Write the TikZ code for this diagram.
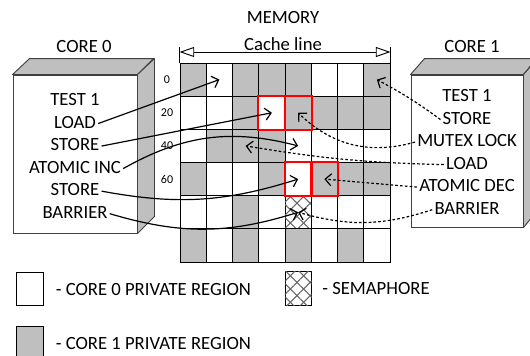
\documentclass[tikz,border=0pt]{standalone}
\usepackage{fontspec}
\setmainfont{Carlito}
\usetikzlibrary{arrows.meta, positioning, patterns.meta}
\definecolor{CellGray}{HTML}{BFBFBF}
\definecolor{EdgeGray}{HTML}{404040}
\definecolor{HotRed}{HTML}{FF0000}

\begin{document}
\begin{tikzpicture}[
    x=0.75pt, y=0.75pt,
    font=\fontsize{14}{16}\selectfont,
    cell/.style={rectangle, draw=black, line width=0.7pt, minimum width=19.69pt, minimum height=24.88pt, inner sep=0pt},
    pri0/.style={fill=white},
    pri1/.style={fill=CellGray},
    sem/.style={fill=white,
        postaction={pattern={Lines[angle=45, distance=7pt, line width=0.8pt]}, pattern color=black!60},
        postaction={pattern={Lines[angle=-45, distance=7pt, line width=0.8pt]}, pattern color=black!60}},
    front/.style={rectangle, draw=EdgeGray, fill=white, line width=0.7pt, inner sep=0pt},
    face/.style={draw=EdgeGray, fill=CellGray, line width=0.7pt, line join=round},
    ctext/.style={inner sep=1.5pt, text height=9.5pt, text depth=2.5pt},
    rowlab/.style={font=\fontsize{9}{11}\selectfont, inner sep=0pt},
    legtext/.style={inner sep=0pt},
    lock/.style={draw=HotRed, line width=1.5pt},
    flow/.style={-{Straight Barb[length=4.5pt, width=9pt]}, line width=0.9pt},
    sync/.style={-{Straight Barb[length=4.5pt, width=9pt]}, line width=0.9pt, dash pattern=on 2pt off 1.6pt},
    span/.style={{Triangle[open, length=11pt, width=7.5pt]}-{Triangle[open, length=11pt, width=7.5pt]}, line width=0.7pt}
]
    \path[use as bounding box, clip] (0,0) rectangle (530,355);

    % Memory grid
    \foreach \row [count=\r from 0] in {
        {pri1,pri0,pri1,pri1,pri1,pri0,pri0,pri1},
        {pri0,pri0,pri1,pri0,pri1,pri1,pri1,pri1},
        {pri0,pri1,pri1,pri1,pri0,pri0,pri0,pri0},
        {pri1,pri0,pri0,pri1,pri0,pri1,pri1,pri1},
        {pri0,pri0,pri1,pri0,sem,pri0,pri0,pri0},
        {pri1,pri0,pri1,pri0,pri1,pri0,pri1,pri0}}
      \foreach \kind [count=\c from 0] in \row
        \node[cell, \kind] (c-\r-\c) at ({180+(\c+0.5)*26.25}, {292-(\r+0.5)*33.17}) {};
    \foreach \cc in {c-1-3, c-1-4, c-3-4, c-3-5}
        \draw[lock] (\cc.north west) rectangle (\cc.south east);
    \foreach \lab [count=\r from 0] in {0,20,40,60}
        \node[rowlab] (row-\r) at (167,0 |- c-\r-0) {\lab};

    \node[anchor=base] (mem) at (283,332) {MEMORY};
    \node[anchor=base] (cache) at (283,305) {Cache line};
    \coordinate (cl-l) at (c-0-0.north west |- 0,303);
    \coordinate (cl-r) at (c-0-7.north east |- 0,303);
    \draw[span] (cl-l) -- (cl-r);
    \draw[line width=0.7pt] (c-0-0.north west) -- ++(0,16) (c-0-7.north east) -- ++(0,16);

    % Core 0
    \node[front, minimum width=93pt, minimum height=118.5pt] (core0) at (75,201) {};
    \draw[face] (core0.north west) -- ++(17,16) -- ++(124,0) -- (core0.north east) -- cycle;
    \draw[face] (core0.north east) -- ++(17,16) -- ++(0,-158) -- (core0.south east) -- cycle;
    \node[anchor=base] (lbl0) at (84,303) {CORE 0};
    \node[ctext] (a0) at (75,254) {TEST 1};
    \node[ctext, below=1.5pt of a0] (a1) {LOAD};
    \node[ctext, below=1.5pt of a1] (a2) {STORE};
    \node[ctext, below=1.5pt of a2] (a3) {ATOMIC INC};
    \node[ctext, below=1.5pt of a3] (a4) {STORE};
    \node[ctext, below=1.5pt of a4] (a5) {BARRIER};

    % Core 1
    \node[front, minimum width=84pt, minimum height=114pt] (core1) at (467,204) {};
    \draw[face] (core1.north west) -- ++(14,16) -- ++(112,0) -- (core1.north east) -- cycle;
    \draw[face] (core1.north east) -- ++(14,16) -- ++(0,-152) -- (core1.south east) -- cycle;
    \node[anchor=base] (lbl1) at (472,303) {CORE 1};
    \node[ctext] (b0) at (467,258) {TEST 1};
    \node[ctext, below=1.5pt of b0] (b1) {STORE};
    \node[ctext, below=1.5pt of b1] (b2) {MUTEX LOCK};
    \node[ctext, below=1.5pt of b2] (b3) {LOAD};
    \node[ctext, below=1.5pt of b3] (b4) {ATOMIC DEC};
    \node[ctext, below=1.5pt of b4] (b5) {BARRIER};

    % Accesses
    \draw[flow] (a1.east) -- (c-0-1.center);
    \draw[flow] (a2.east) -- (c-1-3.center);
    \draw[flow] (a3.east) to[bend left=22] (c-2-4.center);
    \draw[flow] (a4.east) to[bend right=14] (c-3-4.center);
    \draw[flow] (a5.east) to[bend right=17] (c-4-4.center);
    \draw[sync] (b1.west) to[bend right=4] (c-0-7.center);
    \draw[sync] (b2.west) to[bend left=30] (c-1-4.center);
    \draw[sync] (b3.west) to[bend left=4] (c-2-2.center);
    \draw[sync] (b4.west) -- (c-3-5.center);
    \draw[sync] (b5.west) to[bend left=17] (c-4-4.center);

    % Legend
    \node[cell, pri0] (lg0) at (30,66) {};
    \node[legtext, right=9pt of lg0] (lgt0) {- CORE 0 PRIVATE REGION};
    \node[cell, pri1] (lg1) at (30,12) {};
    \node[legtext, right=9pt of lg1] (lgt1) {- CORE 1 PRIVATE REGION};
    \node[cell, sem] (lg2) at (298.5,66.5) {};
    \node[legtext, right=7.5pt of lg2] (lgt2) {- SEMAPHORE};
\end{tikzpicture}
\end{document}
